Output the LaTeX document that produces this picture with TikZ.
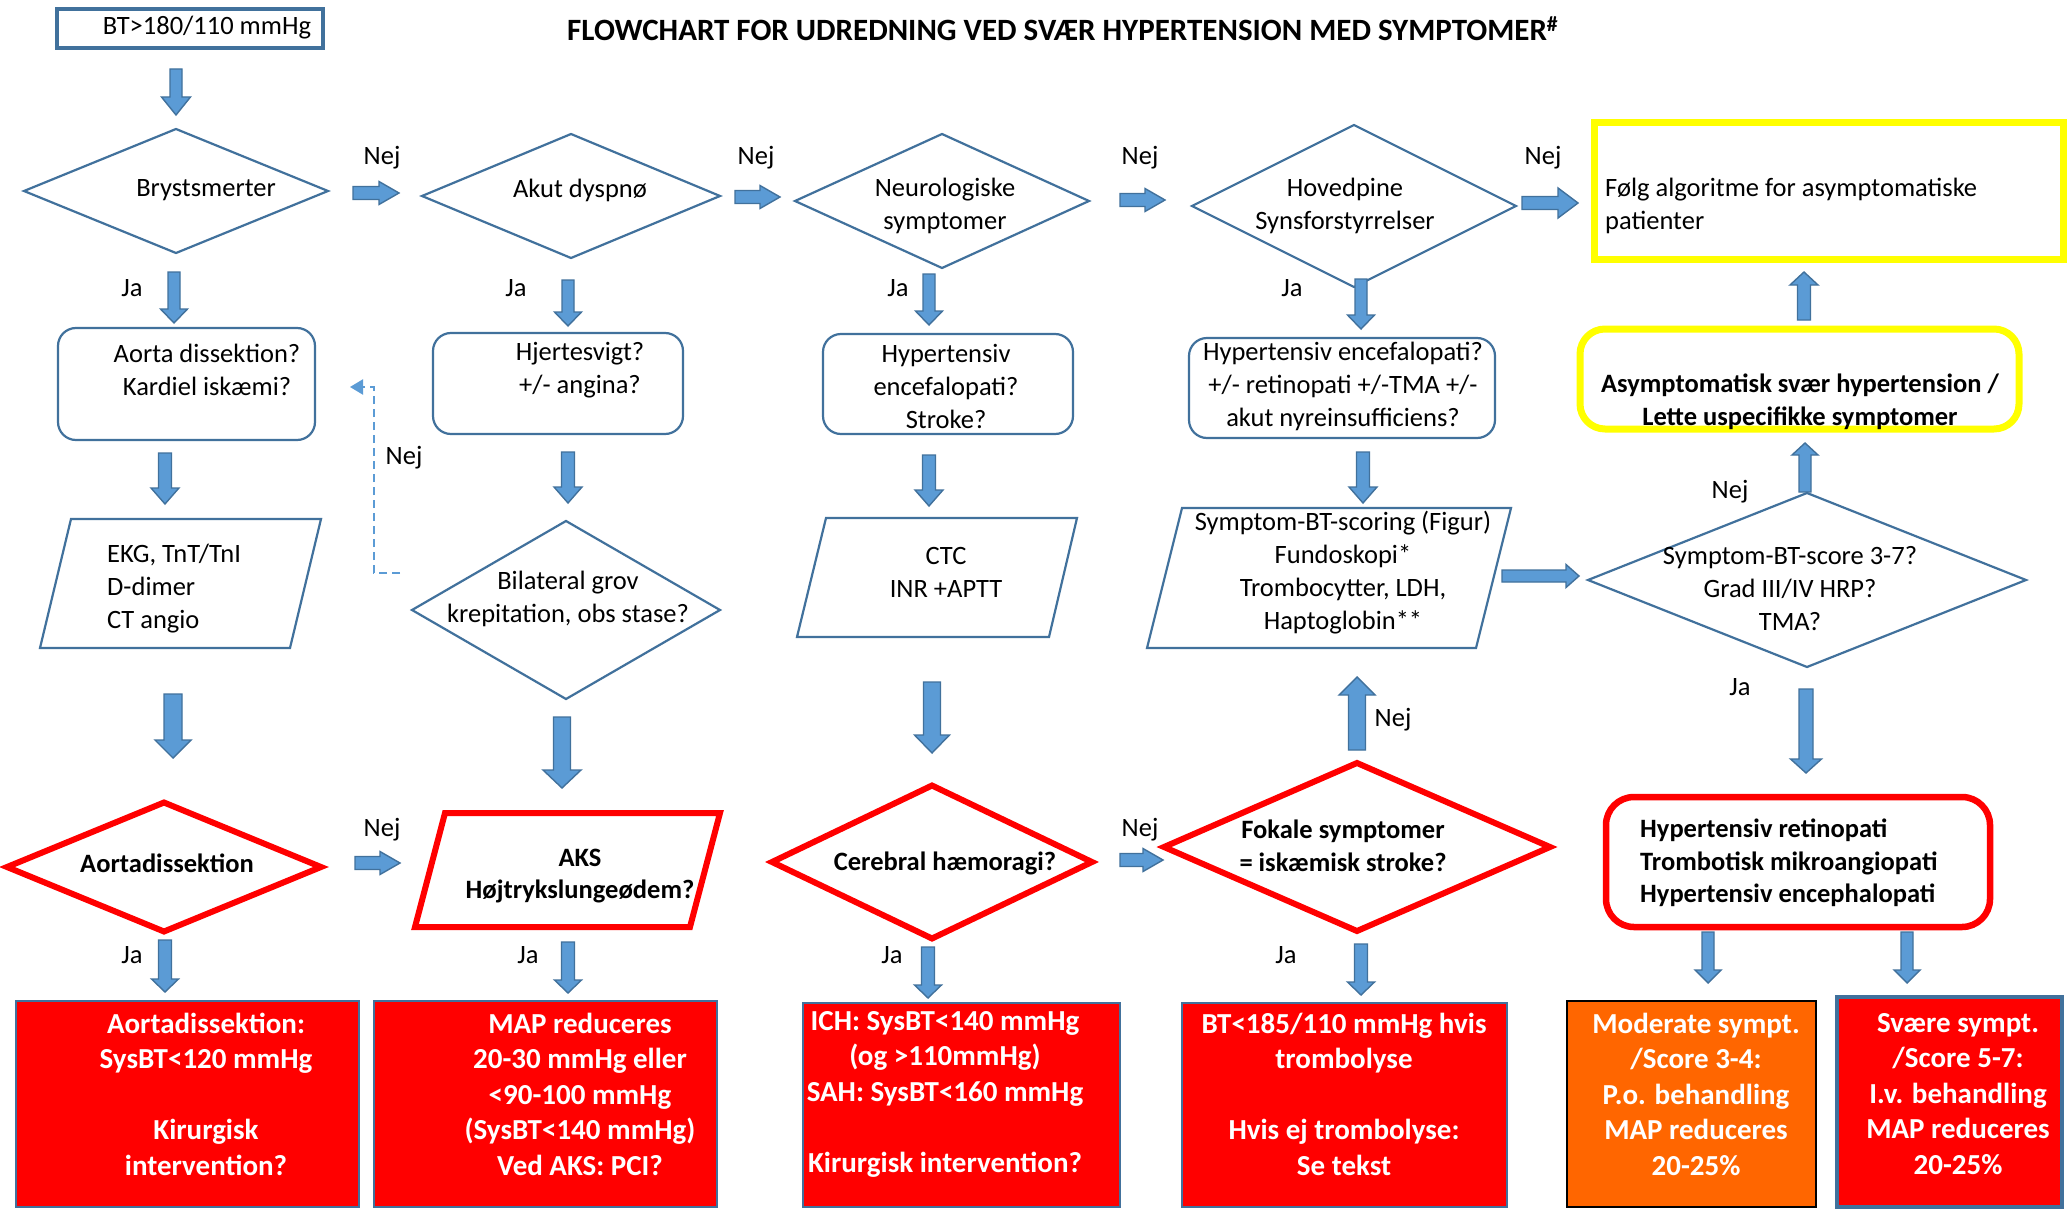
\documentclass[tikz,border=0pt]{standalone}
\usepackage{fontspec}
\setmainfont{Carlito}
\usetikzlibrary{shapes.geometric,calc,arrows.meta}
\definecolor{bline}{RGB}{65,113,156}
\definecolor{bfill}{RGB}{91,155,213}
\definecolor{myred}{RGB}{255,0,0}
\definecolor{myyellow}{RGB}{255,255,0}
\definecolor{myorange}{RGB}{255,102,0}
% block arrow: name, from, to, half shaft, half head, head length
\newcommand\barrow[6]{%
  \coordinate (#1-s) at #2;
  \coordinate (#1-e) at #3;
  \coordinate (#1-h) at ($(#1-e)!#6!(#1-s)$);
  \draw[blockarrow] ($(#1-s)!#4!90:(#1-e)$) -- ($(#1-h)!#4!90:(#1-e)$) -- ($(#1-h)!#5!90:(#1-e)$) -- (#1-e) -- ($(#1-h)!#5!-90:(#1-e)$) -- ($(#1-h)!#4!-90:(#1-e)$) -- ($(#1-s)!#4!-90:(#1-e)$) -- cycle;}
\begin{document}
\begin{tikzpicture}[x=1pt,y=-1pt,
  dia/.style={diamond, draw=bline, line width=2.2pt, inner sep=0pt, outer sep=0pt},
  rdia/.style={diamond, draw=myred, line width=6pt, inner sep=0pt, outer sep=0pt},
  rbox/.style={rectangle, rounded corners=18pt, draw=bline, line width=2.2pt, inner sep=0pt},
  para/.style={draw=bline, line width=2.2pt, line join=miter},
  rpara/.style={draw=myred, line width=6pt, line join=miter},
  blockarrow/.style={fill=bfill, draw=bline, line width=1.4pt, line join=miter},
  lbl/.style={font=\fontsize{26.5}{33}\selectfont, inner sep=0pt, align=center},
  blbl/.style={font=\fontsize{26.5}{32.5}\bfseries\selectfont, inner sep=0pt, align=center},
  wlbl/.style={font=\fontsize{29}{35.5}\bfseries\selectfont, text=white, inner sep=0pt, align=center},
  redbox/.style={rectangle, fill=myred, draw=bline, line width=2pt, inner sep=0pt},
  dashlink/.style={draw=bfill, line width=2pt, dash pattern=on 8pt off 5pt, -{Triangle[length=13pt,width=15pt]}}
]
\useasboundingbox (0,0) rectangle (2071,1209);
\fill[white] (0,0) rectangle (2071,1209);

% title
\node[font=\fontsize{31}{36}\bfseries\selectfont, anchor=west, inner sep=0pt] (title) at (567,29) {FLOWCHART FOR UDREDNING VED SVÆR HYPERTENSION MED SYMPTOMER\textsuperscript{\#}};

% start
\node[rectangle, draw=bline, line width=3.5pt, minimum width=266, minimum height=39, inner sep=0pt] (start) at (190,28.5) {};
\node[lbl] (startt) at (207,28) {BT>180/110 mmHg};
\barrow{a0}{(176,69)}{(176,115)}{6pt}{14.5pt}{18pt}

% row 1 diamonds
\node[dia, minimum width=304, minimum height=124] (d1) at (176,191) {};
\node[lbl] (d1t) at (206,190) {Brystsmerter};
\node[dia, minimum width=298, minimum height=124] (d2) at (571,196) {};
\node[lbl] (d2t) at (580,190) {Akut dyspnø};
\node[dia, minimum width=294, minimum height=134] (d3) at (942,201) {};
\node[lbl] (d3t) at (945,206) {Neurologiske\\symptomer};
\node[dia, minimum width=324, minimum height=162] (d4) at (1354,206) {};
\node[lbl] (d4t) at (1345,206) {Hovedpine\\Synsforstyrrelser};
\node[rectangle, draw=myyellow, line width=7pt, minimum width=469, minimum height=136, inner sep=0pt] (y1) at (1828.5,191) {};
\node[lbl, anchor=west, align=left] (y1t) at (1605,206) {Følg algoritme for asymptomatiske\\patienter};

\barrow{n1}{(353,193)}{(399,193)}{6.5pt}{11.5pt}{20pt}
\barrow{n2}{(735,197)}{(780,197)}{6.5pt}{11.5pt}{20pt}
\barrow{n3}{(1120,200)}{(1165,200)}{6.5pt}{11.5pt}{20pt}
\barrow{n4}{(1522,203)}{(1578,203)}{6.5pt}{15pt}{20pt}
\node[lbl] (nej1) at (382,158) {Nej};
\node[lbl] (nej2) at (756,158) {Nej};
\node[lbl] (nej3) at (1140,158) {Nej};
\node[lbl] (nej4) at (1543,158) {Nej};

% row1 -> row2
\barrow{j1}{(174,272)}{(174,323)}{6pt}{13.5pt}{14pt}
\barrow{j2}{(568,280)}{(568,326)}{6pt}{13.5pt}{14pt}
\barrow{j3}{(929,274)}{(929,325)}{6pt}{13.5pt}{14pt}
\barrow{j4}{(1361,279)}{(1361,329)}{6pt}{13.5pt}{14pt}
\node[lbl] (ja1) at (132,288) {Ja};
\node[lbl] (ja2) at (516,288) {Ja};
\node[lbl] (ja3) at (898,288) {Ja};
\node[lbl] (ja4) at (1292,288) {Ja};

% row 2 boxes
\node[rbox, minimum width=257, minimum height=112] (r1) at (186.5,384) {};
\node[lbl] (r1t) at (207,370) {Aorta dissektion?\\Kardiel iskæmi?};
\node[rbox, minimum width=250, minimum height=101] (r2) at (558,383.5) {};
\node[lbl] (r2t) at (580,370) {Hjertesvigt?\\+/- angina?};
\node[rbox, minimum width=250, minimum height=100] (r3) at (948,384) {};
\node[lbl] (r3t) at (946,386) {Hypertensiv\\encefalopati?\\Stroke?};
\node[rbox, minimum width=306, minimum height=100] (r4) at (1342,388) {};
\node[lbl] (r4t) at (1343,386) {Hypertensiv encefalopati?\\+/- retinopati +/-TMA +/-\\akut nyreinsufficiens?};
\node[rectangle, rounded corners=25pt, draw=myyellow, line width=7pt, minimum width=439, minimum height=100, inner sep=0pt] (y2) at (1799.5,379) {};
\node[blbl] (y2t) at (1800,402) {Asymptomatisk svær hypertension /\\Lette uspecifikke symptomer};
\barrow{u1}{(1804,320)}{(1804,272)}{6.5pt}{14pt}{13pt}

% dashed feedback
\coordinate (dashs) at (400,573);
\coordinate (dashe) at (350,387);
\draw[dashlink] (dashs) -- ++(-26,0) |- (dashe);
\node[lbl] (nejd) at (404,458) {Nej};

% row2 -> row3
\barrow{k1}{(165,453)}{(165,504)}{6.5pt}{14pt}{16pt}
\barrow{k2}{(568,452)}{(568,503)}{6.5pt}{14pt}{16pt}
\barrow{k3}{(929,455)}{(929,506)}{6.5pt}{14pt}{16pt}
\barrow{k4}{(1363,452)}{(1363,503)}{6.5pt}{14pt}{16pt}
\barrow{u2}{(1805,492)}{(1805,443)}{6pt}{13pt}{12pt}

% row 3
\draw[para] (71,519) -- (321,519) -- (290,648) -- (40,648) -- cycle;
\node[lbl, anchor=west, align=left] (p1t) at (107,589) {EKG, TnT/TnI\\D-dimer\\CT angio};
\node[dia, minimum width=308, minimum height=178] (bil) at (566,610) {};
\node[lbl] (bilt) at (568,599) {Bilateral grov\\krepitation, obs stase?};
\draw[para] (826,518) -- (1077,518) -- (1049,637) -- (797,637) -- cycle;
\node[lbl] (p2t) at (946,572) {CTC\\INR +APTT};
\draw[para] (1182,508) -- (1511,508) -- (1476,648) -- (1147,648) -- cycle;
\node[lbl] (p3t) at (1343,573) {Symptom-BT-scoring (Figur)\\Fundoskopi*\\Trombocytter, LDH,\\Haptoglobin**};
\barrow{r1a}{(1502,576)}{(1579,576)}{6pt}{11.5pt}{13pt}
\node[dia, minimum width=438, minimum height=174] (d5) at (1807,580) {};
\node[lbl] (d5t) at (1790,589) {Symptom-BT-score 3-7?\\Grad III/IV HRP?\\TMA?};
\node[lbl] (nej5) at (1730,492) {Nej};
\node[lbl] (ja5) at (1740,687) {Ja};

% row3 -> row4
\barrow{m1}{(173,694)}{(173,758)}{9pt}{18pt}{18pt}
\barrow{m2}{(562,717)}{(562,788)}{8.5pt}{19pt}{18pt}
\barrow{m3}{(932,682)}{(932,753)}{8.5pt}{17.5pt}{18pt}
\barrow{m4}{(1357,750)}{(1357,677)}{8.5pt}{18pt}{18pt}
\node[lbl] (nej6) at (1393,720) {Nej};
\barrow{m5}{(1806,689)}{(1806,773)}{7pt}{15.5pt}{14pt}

% row 4
\node[rdia, minimum width=314, minimum height=129] (rd1) at (164,867) {};
\node[blbl] (rd1t) at (167,863) {Aortadissektion};
\barrow{p1}{(355,863)}{(400,863)}{6.5pt}{11.5pt}{20pt}
\node[lbl] (nej7) at (382,830) {Nej};
\draw[rpara] (445,813) -- (720,813) -- (690,927) -- (415,927) -- cycle;
\node[blbl] (akst) at (580,876) {AKS\\Højtrykslungeødem?};
\node[rdia, minimum width=320, minimum height=153] (rd2) at (932,862) {};
\node[blbl] (rd2t) at (945,863) {Cerebral hæmoragi?};
\barrow{p2}{(1120,860)}{(1163,860)}{6.5pt}{11.5pt}{20pt}
\node[lbl] (nej8) at (1140,830) {Nej};
\node[rdia, minimum width=386, minimum height=168] (rd3) at (1357,847) {};
\node[blbl] (rd3t) at (1343,846) {Fokale symptomer\\= iskæmisk stroke?};
\node[rectangle, rounded corners=28pt, draw=myred, line width=6.5pt, minimum width=384, minimum height=130, inner sep=0pt] (rb) at (1798,862) {};
\node[blbl, anchor=west, align=left] (rbt) at (1640,863) {Hypertensiv retinopati\\Trombotisk mikroangiopati\\Hypertensiv encephalopati};

% row4 -> row5
\barrow{q1}{(165,940)}{(165,992)}{6.5pt}{13.5pt}{13pt}
\barrow{q2}{(568,942)}{(568,993)}{6.5pt}{13.5pt}{13pt}
\barrow{q3}{(928,947)}{(928,998)}{6.5pt}{13.5pt}{13pt}
\barrow{q4}{(1361,944)}{(1361,995)}{6.5pt}{13.5pt}{13pt}
\barrow{q5}{(1708,932)}{(1708,983)}{6pt}{13pt}{13pt}
\barrow{q6}{(1907,932)}{(1907,983)}{6pt}{13pt}{13pt}
\node[lbl] (ja6) at (132,955) {Ja};
\node[lbl] (ja7) at (528,955) {Ja};
\node[lbl] (ja8) at (892,955) {Ja};
\node[lbl] (ja9) at (1286,955) {Ja};

% row 5
\node[redbox, minimum width=343, minimum height=206] (b1) at (187.5,1104) {};
\node[redbox, minimum width=343, minimum height=206] (b2) at (545.5,1104) {};
\node[redbox, minimum width=317, minimum height=204] (b3) at (961.5,1105) {};
\node[redbox, minimum width=325, minimum height=204] (b4) at (1344.5,1105) {};
\node[rectangle, fill=myorange, draw=black, line width=2pt, inner sep=0pt, minimum width=249, minimum height=206] (b5) at (1691.5,1104) {};
\node[redbox, line width=3.5pt, minimum width=225, minimum height=210] (b6) at (1949.5,1102) {};
\node[wlbl] (b1t) at (206,1094) {Aortadissektion:\\SysBT<120 mmHg\\~\\Kirurgisk\\intervention?};
\node[wlbl] (b2t) at (580,1094) {MAP reduceres\\20-30 mmHg eller\\<90-100 mmHg\\(SysBT<140 mmHg)\\Ved AKS: PCI?};
\node[wlbl] (b3t) at (945,1094) {ICH: SysBT<140 mmHg\\(og >110mmHg)\\SAH: SysBT<160 mmHg\\~\\Kirurgisk intervention?};
\node[wlbl] (b4t) at (1344,1094) {BT<185/110 mmHg hvis\\trombolyse\\~\\Hvis ej trombolyse:\\Se tekst};
\node[wlbl] (b5t) at (1696,1094) {Moderate sympt.\\/Score 3-4:\\P.o. behandling\\MAP reduceres\\20-25\%};
\node[wlbl] (b6t) at (1958,1094) {Svære sympt.\\/Score 5-7:\\I.v. behandling\\MAP reduceres\\20-25\%};
\end{tikzpicture}
\end{document}
